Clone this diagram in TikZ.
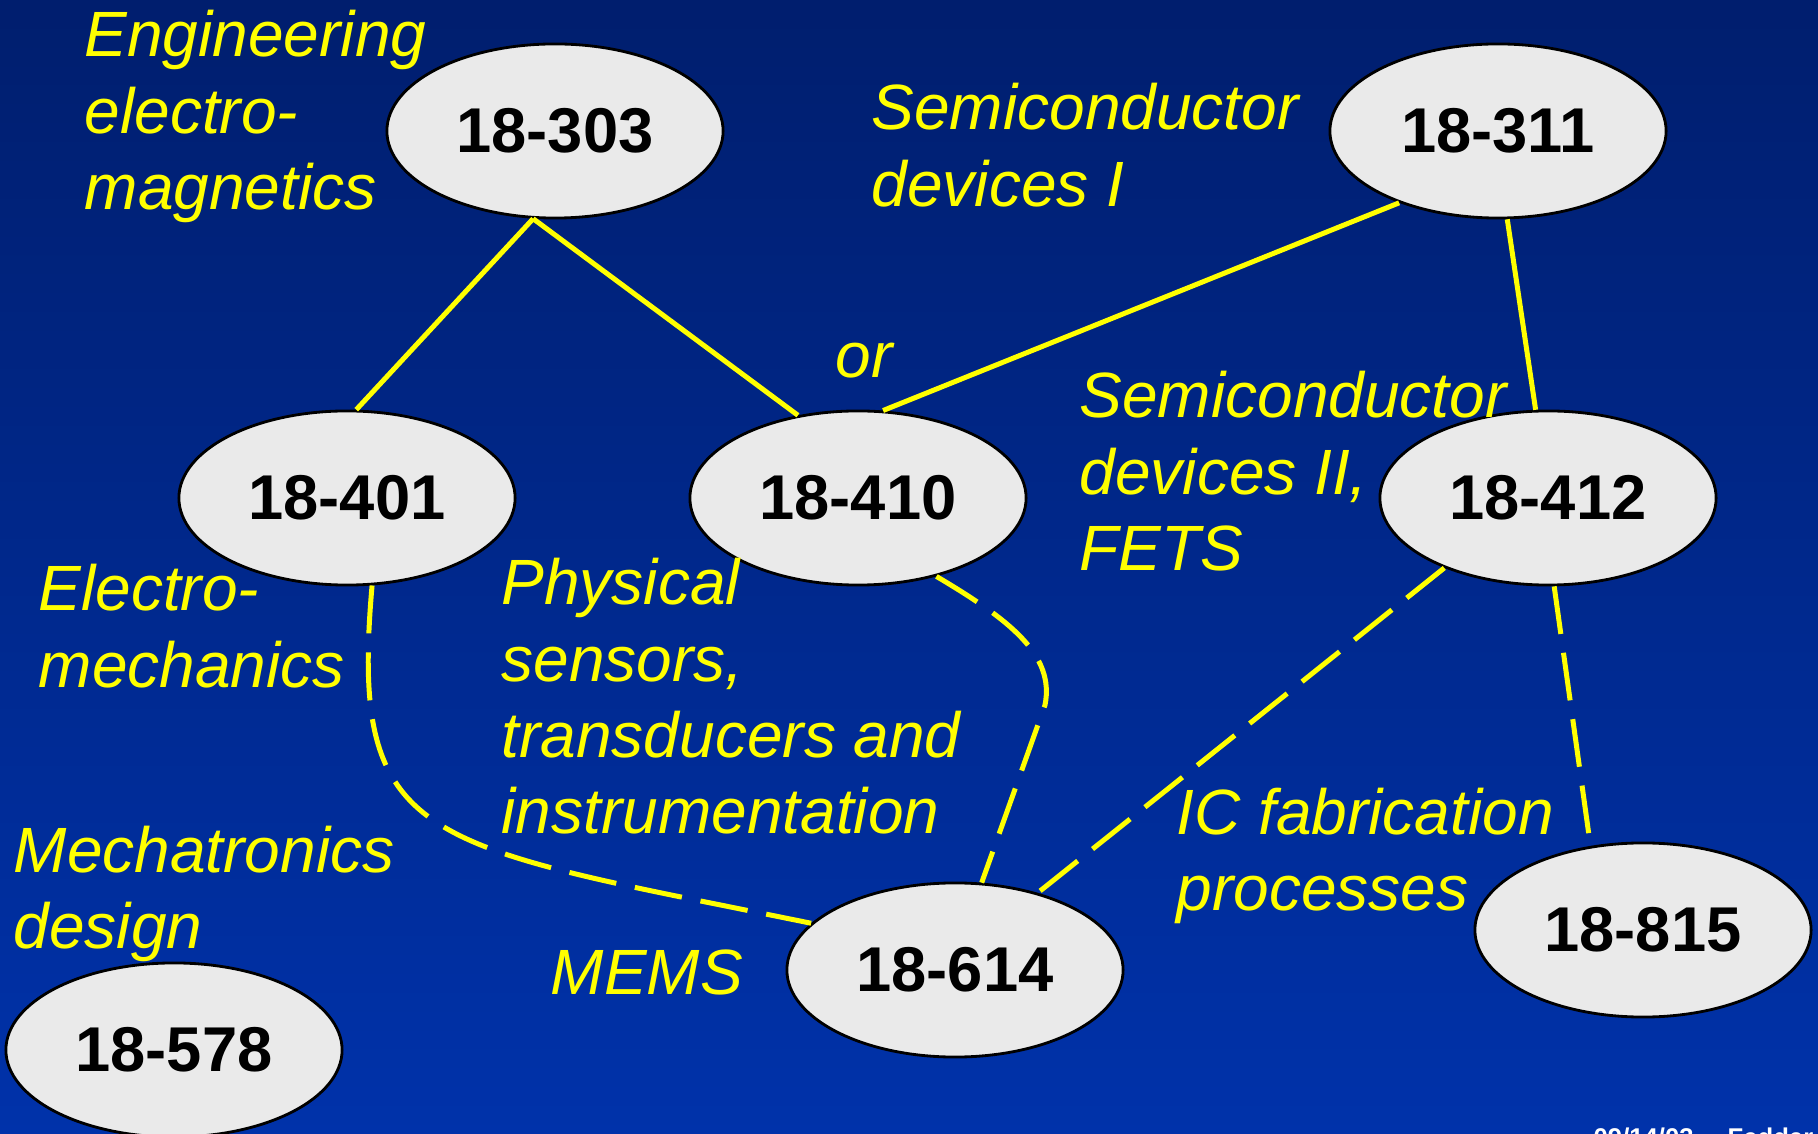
\documentclass[tikz,border=0pt]{standalone}
\usepackage{fontspec}
\setmainfont{Liberation Sans}
\usetikzlibrary{shapes.geometric}
\definecolor{bgtop}{RGB}{0,30,110}
\definecolor{bgbot}{RGB}{0,50,170}
\definecolor{nodefill}{RGB}{234,234,234}
\definecolor{lineyel}{RGB}{255,255,0}
\newcommand{\mylines}[1]{\begin{tabular}[t]{@{}l@{}}#1\end{tabular}}
\begin{document}
\begin{tikzpicture}[x=0.01cm,y=-0.01cm,
  course/.style={ellipse,draw=black,line width=0.8pt,fill=nodefill,minimum width=3.36cm,minimum height=1.74cm,inner sep=0pt,font=\fontsize{18}{21.7}\selectfont\bfseries},
  topic/.style={anchor=base west,inner sep=0pt,text=lineyel,font=\fontsize{18.2}{21.7}\selectfont\itshape},
  link/.style={draw=lineyel,line width=1.42pt},
  dlink/.style={link,dash pattern=on 0.48cm off 0.19cm}]
\shade[top color=bgtop,bottom color=bgbot] (0,0) rectangle (1818,1134);
\useasboundingbox (0,0) rectangle (1818,1134);

\node[course] (n303) at (555,131) {18-303};
\node[course] (n311) at (1498,131) {18-311};
\node[course] (n401) at (347,498) {18-401};
\node[course] (n410) at (858,498) {18-410};
\node[course] (n412) at (1548,498) {18-412};
\node[course] (n614) at (955,970) {18-614};
\node[course] (n815) at (1643,930) {18-815};
\node[course] (n578) at (174,1050) {18-578};

\node[topic] (lEng) at (84,57) {\mylines{Engineering\\electro-\\magnetics}};
\node[topic] (lSem1) at (871,130) {\mylines{Semiconductor\\devices I}};
\node[topic] (lOr) at (835,378) {or};
\node[topic] (lSem2) at (1079,418) {\mylines{Semiconductor\\devices II,\\FETS}};
\node[topic] (lElec) at (38,611) {\mylines{Electro-\\mechanics}};
\node[topic] (lPhys) at (501,605) {\mylines{Physical\\sensors,\\transducers and\\instrumentation}};
\node[topic] (lMech) at (13,872) {\mylines{Mechatronics\\design}};
\node[topic] (lMEMS) at (550,994) {MEMS};
\node[topic] (lIC) at (1176,834) {\mylines{IC fabrication\\processes}};
\node[anchor=base west,inner sep=0pt,text=white,font=\fontsize{7.3}{9}\selectfont\bfseries] (date) at (1593,1146) {09/14/03\hspace{0.34cm}Fedder};

\draw[link] (n303.-104.7) -- (n401.84);
\draw[link] (n303.-104.7) -- (n410.126.5);
\draw[link] (n311.-144) -- (n410.74);
\draw[link] (n311.-84) -- (n412.98);
\draw[dlink] (n401.-74) .. controls (349,847) and (422,844) .. (n614.162);
\draw[dlink] (n410.-45) .. controls (1010,620) and (1055,655) .. (1045,705) -- (n614.73);
\draw[dlink] (n412.-146.5) -- (n614.43);
\draw[dlink] (n412.-86) -- (n815.122);
\end{tikzpicture}
\end{document}
